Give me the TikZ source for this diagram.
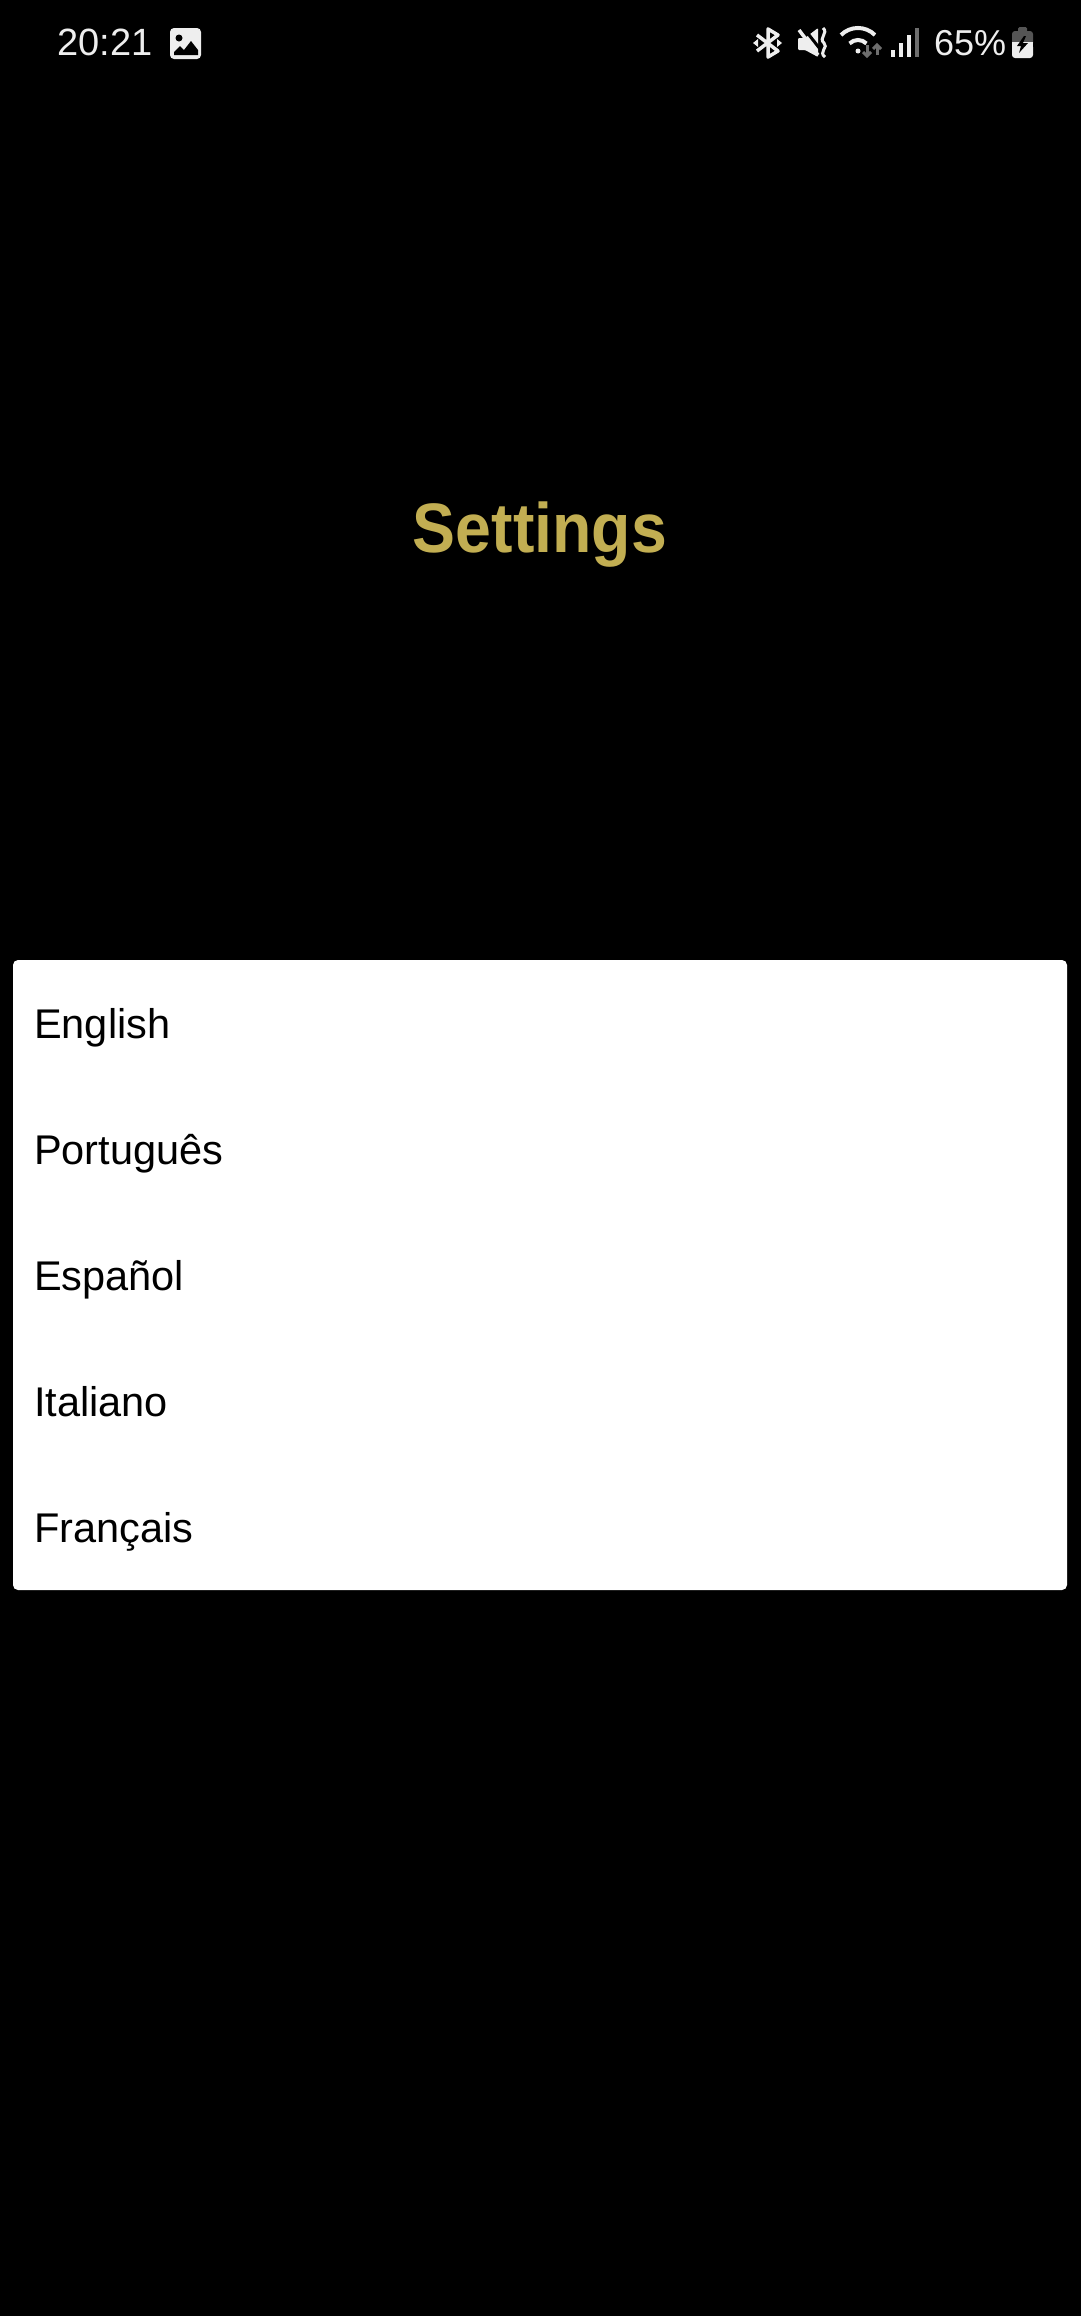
\documentclass[tikz,border=0pt]{standalone}
\usepackage{fontspec}
\setmainfont{Liberation Sans}
\newfontfamily\titlefont[FakeStretch=0.92]{Liberation Sans}
\definecolor{shotcolor0000}{RGB}{0,0,0}
\definecolor{shotcolor0001}{RGB}{255,255,255}
\definecolor{shotcolor0002}{RGB}{238,238,238}
\definecolor{shotcolor0003}{RGB}{194,174,82}
\definecolor{shotcolor0004}{RGB}{110,110,110}
\definecolor{shotcolor0005}{RGB}{85,85,85}
\begin{document}
\begin{tikzpicture}[yscale=-1
,pstyle1/.style={color=shotcolor0002,line width=4pt}
,pstyle2/.style={color=shotcolor0004,line width=3pt}
,pstyle3/.style={fill=shotcolor0002}
,pstyle4/.style={fill=shotcolor0005}
,rowlabel/.style={anchor=base west,inner sep=0pt,color=shotcolor0000,font=\fontsize{41.5pt}{50pt}\selectfont}
,barlabel/.style={anchor=base west,inner sep=0pt,color=shotcolor0002,font=\fontsize{38pt}{46pt}\selectfont}
]
\useasboundingbox (0pt,0pt) rectangle (1080pt,2316pt);
\fill[shotcolor0000] (-4pt,-4pt) rectangle (1084pt,2320pt);
% status bar, left
\node (clock) at (57pt,55pt)[barlabel]{20:21};
\fill[pstyle3,rounded corners=4pt] (170pt,28pt) rectangle (201pt,59pt);
\fill[shotcolor0000] (179pt,38pt) circle (3.5pt);
\fill[shotcolor0000] (174pt,55pt) -- (174pt,52pt) -- (180pt,46pt) -- (184pt,50pt) -- (191pt,41pt) -- (198pt,50pt) -- (198pt,55pt) -- cycle;
% status bar, bluetooth
\draw[pstyle1,line width=3.5pt,line join=round] (757pt,35pt) -- (778pt,51pt) -- (768pt,57pt) -- (768pt,29pt) -- (778pt,35pt) -- (757pt,51pt);
\fill[pstyle3] (753pt,43pt) -- (758pt,39pt) -- (758pt,47pt) -- cycle;
\fill[pstyle3] (782pt,43pt) -- (777pt,39pt) -- (777pt,47pt) -- cycle;
% status bar, muted speaker
\fill[pstyle3,rounded corners=1pt] (798pt,38pt) -- (805pt,38pt) -- (818pt,28pt) -- (818pt,57pt) -- (805pt,50pt) -- (798pt,50pt) -- cycle;
\draw[color=shotcolor0000,line width=3pt] (802pt,26pt) -- (824pt,54pt);
\draw[pstyle1,line width=3.5pt] (799pt,30pt) -- (818pt,55pt);
\draw[pstyle1,line width=3pt] (823pt,28pt) .. controls (829pt,33pt) and (818pt,38pt) .. (824pt,43pt) .. controls (829pt,47pt) and (818pt,52pt) .. (825pt,57pt);
% status bar, wifi
\draw[pstyle1] (841pt,35pt) arc (225:315:24pt);
\draw[pstyle1] (849.5pt,43.5pt) arc (225:315:12pt);
\fill[pstyle3] (858pt,51pt) circle (2.5pt);
\draw[pstyle2] (867pt,45pt) -- (867pt,56pt);
\draw[pstyle2] (863pt,52pt) -- (867pt,56pt) -- (871pt,52pt);
\draw[pstyle2] (877pt,55pt) -- (877pt,45pt);
\draw[pstyle2] (873pt,49pt) -- (877pt,45pt) -- (881pt,49pt);
% status bar, signal
\fill[pstyle3] (891.3pt,50pt) rectangle (894.7pt,56.5pt);
\fill[pstyle3] (899.3pt,43pt) rectangle (902.7pt,56.5pt);
\fill[pstyle3] (907.3pt,35pt) rectangle (910.7pt,56.5pt);
\fill[shotcolor0004] (915.3pt,28pt) rectangle (918.7pt,56.5pt);
\node (percent) at (934pt,55pt)[barlabel,font=\fontsize{36pt}{44pt}\selectfont]{65\%};
% status bar, battery
\fill[pstyle4,rounded corners=1.5pt] (1018pt,27pt) rectangle (1027pt,34pt);
\fill[pstyle4,rounded corners=3pt] (1012pt,31pt) rectangle (1033pt,46pt);
\fill[pstyle3,rounded corners=3pt] (1012pt,44pt) rectangle (1033pt,58pt);
\fill[pstyle3] (1012pt,42pt) rectangle (1033pt,47pt);
\fill[shotcolor0000] (1024pt,36pt) -- (1017pt,46pt) -- (1021pt,46pt) -- (1019pt,53pt) -- (1028pt,43pt) -- (1023pt,43pt) -- (1026pt,36pt) -- cycle;
% title
\node (title) at (540pt,552pt)[anchor=base,inner sep=0pt,color=shotcolor0003,font=\titlefont\fontsize{70pt}{84pt}\selectfont\bfseries]{Settings};
% language list
\fill[shotcolor0001,rounded corners=5pt] (13pt,960pt) rectangle (1067pt,1590pt);
\node (english) at (34pt,1038pt)[rowlabel]{English};
\node (portugues) at (34pt,1164pt)[rowlabel]{Português};
\node (espanol) at (34pt,1290pt)[rowlabel]{Español};
\node (italiano) at (34pt,1416pt)[rowlabel]{Italiano};
\node (francais) at (34pt,1542pt)[rowlabel]{Français};
\end{tikzpicture}
\end{document}
